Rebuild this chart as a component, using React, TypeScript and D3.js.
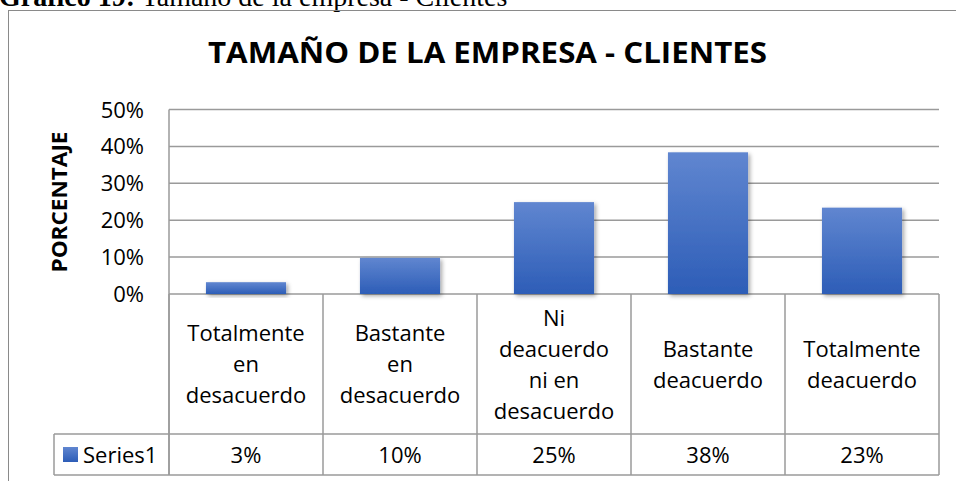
import React, { useEffect } from "react";
import * as d3 from "d3";

// chart values
const categories = [
  "Totalmente\nen\ndesacuerdo",
  "Bastante\nen\ndesacuerdo",
  "Ni\ndeacuerdo\nni en\ndesacuerdo",
  "Bastante\ndeacuerdo",
  "Totalmente\ndeacuerdo",
];
const series1 = [0.032, 0.098, 0.249, 0.384, 0.234];
const seriesName = "Series1";
const yTicks = [0, 0.1, 0.2, 0.3, 0.4, 0.5];

const FONT = "'Open Sans', sans-serif";
const GRID = "#9a9a9a";
const FS = 22;

export default function App() {
  useEffect(() => {
    document.body.style.margin = "0";
  }, []);

  const width = 956;
  const height = 481;
  const plot = { left: 169, right: 939, top: 109.5, bottom: 294 };
  const tableRowBottom = 434;
  const tableBottom = 475;
  const legendLeft = 54;

  const x = d3
    .scaleBand<number>()
    .domain(d3.range(categories.length))
    .range([plot.left, plot.right])
    .paddingInner(0.48)
    .paddingOuter(0.24);
  const y = d3.scaleLinear().domain([0, 0.5]).range([plot.bottom, plot.top]);
  const fmt = d3.format(".0%");
  const step = x.step();
  const colLeft = (i: number) => plot.left + i * step;
  const lineH = 31;
  const catMid = (plot.bottom + tableRowBottom) / 2;

  return (
    <svg width={width} height={height} style={{ display: "block", background: "#fff" }}>
      <defs>
        <linearGradient id="barGrad" x1="0" y1="0" x2="0" y2="1">
          <stop offset="0%" stopColor="#6086d0" />
          <stop offset="100%" stopColor="#2d5db7" />
        </linearGradient>
        <filter id="shadow" x="-20%" y="-20%" width="150%" height="150%">
          <feDropShadow dx="2" dy="2" stdDeviation="2" floodColor="#000" floodOpacity="0.35" />
        </filter>
      </defs>

      {/* caption above the chart, cut off at the top */}
      <text x={-1} y={6} fontFamily="'Liberation Serif', serif" fontSize={28} fill="#000">
        <tspan fontWeight="bold">Gráfico 19:</tspan>
        <tspan> Tamaño de la empresa - Clientes</tspan>
      </text>

      {/* chart frame */}
      <rect x={8.5} y={10.5} width={1000} height={600} fill="none" stroke="#8a8a8a" strokeWidth={1} />

      <text
        x={487.5}
        y={63}
        textAnchor="middle"
        fontFamily={FONT}
        fontWeight="bold"
        fontSize={28}
        textLength={559}
        lengthAdjust="spacingAndGlyphs"
        fill="#000"
      >
        TAMAÑO DE LA EMPRESA - CLIENTES
      </text>

      <text
        transform={`translate(67, 202) rotate(-90)`}
        textAnchor="middle"
        fontFamily={FONT}
        fontWeight="bold"
        fontSize={21}
        textLength={141}
        lengthAdjust="spacingAndGlyphs"
        fill="#000"
      >
        PORCENTAJE
      </text>

      {/* gridlines and y tick labels */}
      {yTicks.map((t) => (
        <g key={t}>
          <line x1={plot.left} x2={plot.right} y1={y(t)} y2={y(t)} stroke={GRID} strokeWidth={1.5} />
          <text
            x={144}
            y={y(t) + 8}
            textAnchor="end"
            fontFamily={FONT}
            fontSize={FS}
            fill="#000"
          >
            {fmt(t)}
          </text>
        </g>
      ))}
      <line x1={plot.left} x2={plot.left} y1={plot.top} y2={tableBottom} stroke={GRID} strokeWidth={1.5} />

      {/* bars */}
      {series1.map((v, i) => (
        <rect
          key={i}
          x={x(i)}
          y={y(v)}
          width={x.bandwidth()}
          height={y(0) - y(v)}
          fill="url(#barGrad)"
          filter="url(#shadow)"
        />
      ))}

      {/* data table */}
      {d3.range(categories.length + 1).map((i) => (
        <line
          key={i}
          x1={colLeft(i)}
          x2={colLeft(i)}
          y1={plot.bottom}
          y2={tableBottom}
          stroke={GRID}
          strokeWidth={1.5}
        />
      ))}
      <line x1={legendLeft} x2={plot.right} y1={tableRowBottom} y2={tableRowBottom} stroke={GRID} strokeWidth={1.5} />
      <line x1={legendLeft} x2={plot.right} y1={tableBottom} y2={tableBottom} stroke={GRID} strokeWidth={1.5} />
      <line x1={legendLeft} x2={legendLeft} y1={tableRowBottom} y2={tableBottom} stroke={GRID} strokeWidth={1.5} />

      {categories.map((c, i) => {
        const lines = c.split("\n");
        const first = catMid - ((lines.length - 1) / 2) * lineH + 8;
        return (
          <text key={i} textAnchor="middle" fontFamily={FONT} fontSize={FS} fill="#000">
            {lines.map((l, j) => (
              <tspan key={j} x={colLeft(i) + step / 2} y={first + j * lineH}>
                {l}
              </tspan>
            ))}
          </text>
        );
      })}

      {series1.map((v, i) => (
        <text
          key={i}
          x={colLeft(i) + step / 2}
          y={(tableRowBottom + tableBottom) / 2 + 8}
          textAnchor="middle"
          fontFamily={FONT}
          fontSize={FS}
          fill="#000"
        >
          {fmt(v)}
        </text>
      ))}

      <rect x={63} y={447} width={15} height={15} fill="url(#barGrad)" />
      <text x={83} y={(tableRowBottom + tableBottom) / 2 + 8} fontFamily={FONT} fontSize={FS} fill="#000">
        {seriesName}
      </text>
    </svg>
  );
}
